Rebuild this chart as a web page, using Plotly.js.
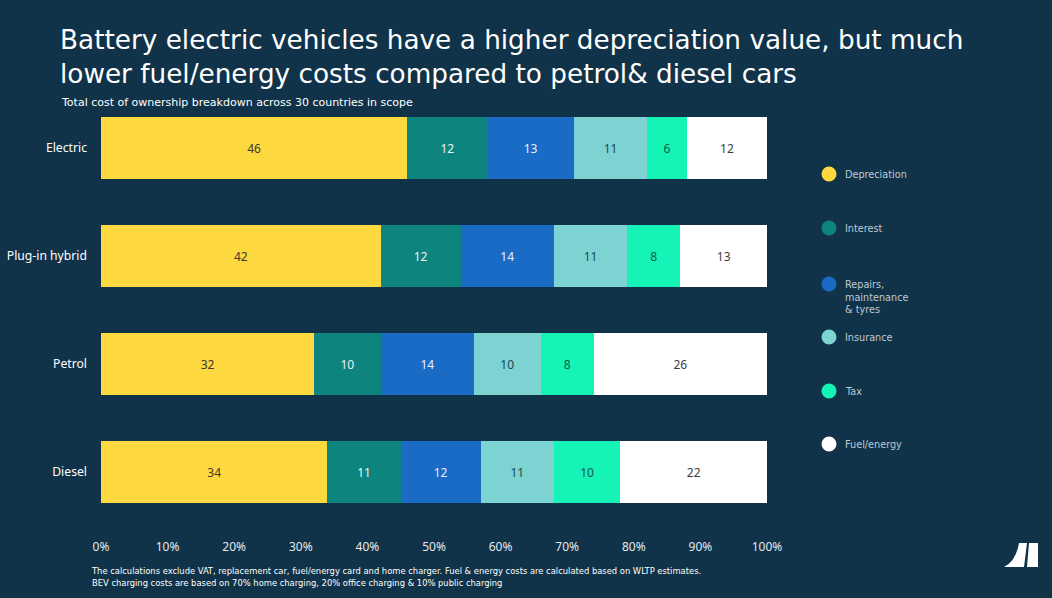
<!DOCTYPE html>
<html>
<head>
<meta charset="utf-8">
<script src="https://cdn.plot.ly/plotly-3.0.1.min.js"></script>
<style>html,body{margin:0;padding:0;background:#113349;}</style>
</head>
<body>
<div id="chart" style="width:1052px;height:598px;"></div>
<script>
// ---- data ----
const vehicles = ["Electric", "Plug-in hybrid", "Petrol", "Diesel"];
const components = ["Depreciation", "Interest", "Repairs,<br>maintenance<br>& tyres", "Insurance", "Tax", "Fuel/energy"];
const depreciation = [46, 42, 32, 34];
const interest = [12, 12, 10, 11];
const repairs = [13, 14, 14, 12];
const insurance = [11, 11, 10, 11];
const tax = [6, 8, 8, 10];
const fuel = [12, 13, 26, 22];
const xTickVals = [0, 10, 20, 30, 40, 50, 60, 70, 80, 90, 100];
const xTickText = ["0%", "10%", "20%", "30%", "40%", "50%", "60%", "70%", "80%", "90%", "100%"];

// ---- styles ----
const colors = ["#FED83F", "#0E847E", "#1A6BC6", "#7CD3D2", "#16F3B6", "#FFFFFF"];
const textColors = ["#3b3a2c", "#e6f4f3", "#e8f0fb", "#1f4753", "#0d5c4a", "#3a3f44"];
const series = [depreciation, interest, repairs, insurance, tax, fuel];

const W = 1052, H = 598;
const L = 101, R = 767, T = 94, B = 534;
const px = x => (x - L) / (R - L);
const py = y => (B - y) / (B - T);

const traces = series.map((vals, i) => ({
  type: "bar",
  orientation: "h",
  name: components[i],
  y: vehicles,
  x: vals,
  text: vals.map(String),
  textposition: "inside",
  insidetextanchor: "middle",
  textangle: 0,
  constraintext: "none",
  insidetextfont: {family: "Noto Sans, sans-serif", size: 12, color: textColors[i]},
  marker: {color: colors[i], line: {width: 0}},
  showlegend: false,
  hoverinfo: "skip"
}));

const annotations = [];
const shapes = [];

// title
annotations.push({
  xref: "paper", yref: "paper", x: px(58), y: py(57.5), xanchor: "left", yanchor: "middle", align: "left",
  text: "Battery electric vehicles have a higher depreciation value, but much<br>lower fuel/energy costs compared to petrol&amp; diesel cars",
  showarrow: false,
  font: {family: "DejaVu Sans, sans-serif", size: 26.3, color: "#ffffff"}
});

// subtitle
annotations.push({
  xref: "paper", yref: "paper", x: px(59), y: py(102), xanchor: "left", yanchor: "middle",
  text: "Total cost of ownership breakdown across 30 countries in scope", showarrow: false,
  font: {family: "DejaVu Sans, sans-serif", size: 11, color: "#ffffff"}
});

// footnote
annotations.push({
  xref: "paper", yref: "paper", x: px(89), y: py(576.5), xanchor: "left", yanchor: "middle", align: "left",
  text: "The calculations exclude VAT, replacement car, fuel/energy card and home charger. Fuel &amp; energy costs are calculated based on WLTP estimates.<br>BEV charging costs are based on 70% home charging, 20% office charging &amp; 10% public charging",
  showarrow: false,
  font: {family: "Liberation Sans Narrow, DejaVu Sans Condensed, sans-serif", size: 9.3, color: "#ffffff"}
});

// legend (custom)
const legendY = [174, 228, 284, 337, 391, 444];
components.forEach((c, i) => {
  const cy = legendY[i];
  shapes.push({
    type: "circle", xref: "paper", yref: "paper",
    x0: px(821.5), x1: px(836.5), y0: py(cy + 7.5), y1: py(cy - 7.5),
    fillcolor: colors[i], line: {width: 0}
  });
  annotations.push({
    xref: "paper", yref: "paper", x: px(843), y: py(cy - 7.3), xanchor: "left", yanchor: "top", align: "left",
    text: c, showarrow: false,
    font: {family: "DejaVu Sans, sans-serif", size: 9.7, color: "#bfcad2"}
  });
});

// logo
shapes.push({
  type: "path", xref: "paper", yref: "paper", fillcolor: "#ffffff", line: {width: 0},
  path: `M ${px(1004)} ${py(567)} Q ${px(1016)} ${py(561)} ${px(1019)} ${py(543)} L ${px(1027)} ${py(543)} L ${px(1024)} ${py(567)} Z`
});
shapes.push({
  type: "path", xref: "paper", yref: "paper", fillcolor: "#ffffff", line: {width: 0},
  path: `M ${px(1029)} ${py(543)} L ${px(1038)} ${py(543)} L ${px(1038)} ${py(567)} L ${px(1027)} ${py(567)} Z`
});

const layout = {
  width: W, height: H,
  paper_bgcolor: "#113349", plot_bgcolor: "#113349",
  margin: {l: L, r: W - R, t: T, b: H - B, pad: 0},
  barmode: "stack",
  bargap: 0.426,
  xaxis: {
    range: [0, 100], tickvals: xTickVals, ticktext: xTickText,
    showgrid: false, zeroline: false, showline: false, ticks: "", ticklabelstandoff: 4,
    tickfont: {family: "Noto Sans, sans-serif", size: 12, color: "#e4e8ec"}, fixedrange: true
  },
  yaxis: {
    type: "category", range: [3.574, -0.5],
    showgrid: false, zeroline: false, showline: false, ticks: "", ticklabelstandoff: 13,
    tickfont: {family: "Noto Sans, sans-serif", size: 12.2, color: "#ffffff"}, fixedrange: true
  },
  annotations: annotations,
  shapes: shapes,
  showlegend: false,
  font: {family: "Noto Sans, sans-serif", color: "#ffffff"}
};

Plotly.newPlot("chart", traces, layout, {displayModeBar: false, staticPlot: true});
</script>
</body>
</html>
